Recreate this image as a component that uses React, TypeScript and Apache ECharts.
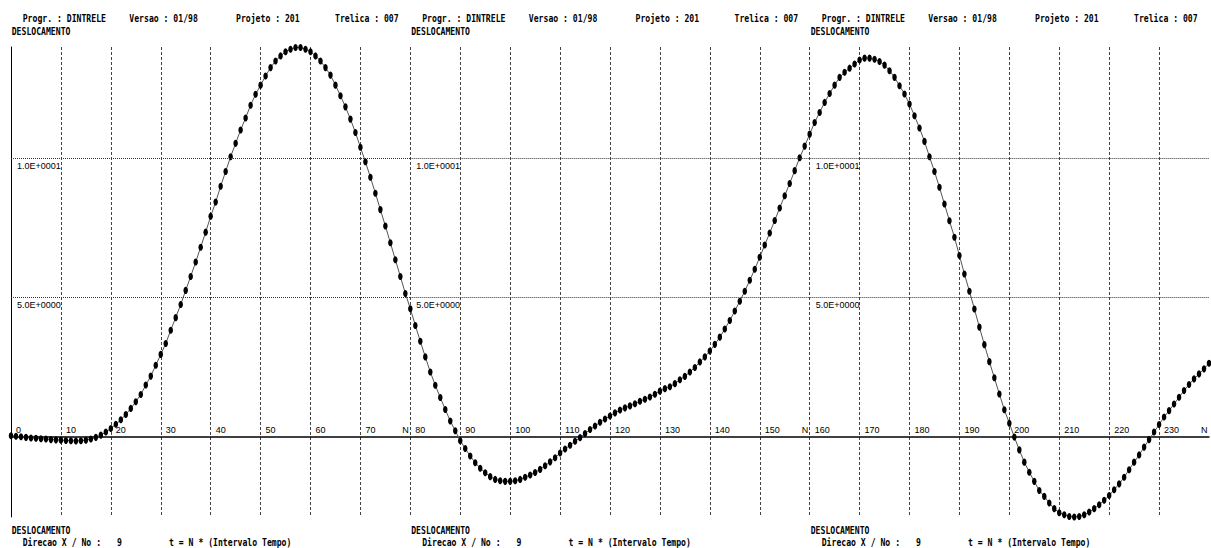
import React, { useEffect, useRef } from 'react';
import * as echarts from 'echarts';

// Displacement (DESLOCAMENTO) per time step N
const dispSteps0to79 = [
  0.04, 0.02, 0.0, -0.02, -0.04, -0.05, -0.07, -0.08, -0.1, -0.11,
  -0.12, -0.13, -0.14, -0.15, -0.14, -0.12, -0.08, -0.02, 0.06, 0.17,
  0.3, 0.45, 0.61, 0.8, 1.02, 1.26, 1.52, 1.86, 2.18, 2.57,
  2.96, 3.35, 3.83, 4.28, 4.75, 5.26, 5.76, 6.28, 6.81, 7.35,
  7.92, 8.43, 9.0, 9.53, 10.06, 10.54, 11.02, 11.45, 11.91, 12.3,
  12.63, 12.96, 13.26, 13.5, 13.68, 13.83, 13.92, 13.98, 13.98, 13.92,
  13.83, 13.68, 13.5, 13.26, 12.99, 12.63, 12.25, 11.85, 11.41, 10.93,
  10.4, 9.88, 9.32, 8.75, 8.16, 7.57, 6.97, 6.36, 5.76, 5.15,
];
const dispSteps80to159 = [
  4.6, 4.0, 3.43, 2.87, 2.33, 1.85, 1.41, 0.98, 0.57, 0.22,
  -0.14, -0.42, -0.69, -0.93, -1.13, -1.29, -1.43, -1.53, -1.58, -1.6,
  -1.6, -1.58, -1.53, -1.45, -1.37, -1.28, -1.17, -1.04, -0.9, -0.75,
  -0.58, -0.44, -0.3, -0.16, -0.03, 0.12, 0.26, 0.39, 0.52, 0.64,
  0.75, 0.86, 0.96, 1.04, 1.11, 1.19, 1.28, 1.35, 1.43, 1.53,
  1.64, 1.73, 1.8, 1.91, 2.05, 2.17, 2.33, 2.49, 2.69, 2.87,
  3.08, 3.32, 3.58, 3.87, 4.18, 4.52, 4.87, 5.23, 5.62, 6.02,
  6.45, 6.89, 7.32, 7.77, 8.22, 8.66, 9.1, 9.56, 10.02, 10.44,
];
const dispSteps160to240 = [
  10.87, 11.29, 11.65, 12.01, 12.33, 12.63, 12.91, 13.09, 13.24, 13.39,
  13.53, 13.6, 13.6, 13.56, 13.48, 13.35, 13.15, 12.91, 12.61, 12.31,
  11.95, 11.53, 11.09, 10.61, 10.06, 9.53, 8.96, 8.36, 7.76, 7.17,
  6.51, 5.85, 5.23, 4.59, 3.94, 3.31, 2.7, 2.12, 1.54, 0.97,
  0.49, -0.01, -0.47, -0.91, -1.27, -1.6, -1.93, -2.14, -2.38, -2.58,
  -2.73, -2.8, -2.86, -2.88, -2.86, -2.8, -2.7, -2.58, -2.44, -2.28,
  -2.11, -1.9, -1.69, -1.45, -1.18, -0.91, -0.65, -0.37, -0.1, 0.17,
  0.44, 0.71, 0.94, 1.18, 1.42, 1.66, 1.88, 2.08, 2.26, 2.44,
  2.64,
];

const stepMin = 0;
const stepMax = 240;
const stepTickInterval = 10;
const dispMin = -2.88;
const dispMax = 14.0;
const panelStartSteps = [0, 80, 160];
const yGridValues = [10, 5];
const yGridLabels = ['1.0E+0001', '5.0E+0000'];
const panelEndLabel = 'N';

const headerTexts = ['Progr. : DINTRELE', 'Versao : 01/98', 'Projeto : 201', 'Trelica : 007'];
const titleText = 'DESLOCAMENTO';
const footerTexts = ['Direcao X / No :', '9', 't = N * (Intervalo Tempo)'];

// ---- layout / style (not data) ----
const W = 1211;
const H = 548;
const GRID = { left: 11, right: 2, top: 47, bottom: 31 };
const PANEL_OFFSETS = [0, 399.5, 799];
const HEADER_X = [22.7, 129.3, 236, 335];
const HEADER_Y = 18.5;
const TITLE_X = 11.7;
const TITLE_TOP_Y = 31.7;
const TITLE_BOTTOM_Y = 530.3;
const FOOTER_X = [22.7, 117, 169];
const FOOTER_Y = 542.7;
const MONO = '"DejaVu Sans Mono", "Liberation Mono", monospace';
const SANS = '"Liberation Sans", "DejaVu Sans", sans-serif';
const MONO_SCALE = 0.814;

function monoText(text: string, x: number, y: number) {
  return {
    type: 'text',
    x,
    y,
    scaleX: MONO_SCALE,
    silent: true,
    style: {
      text,
      fontFamily: MONO,
      fontSize: 10,
      fontWeight: 'bold',
      fill: '#000',
      align: 'left',
      verticalAlign: 'middle',
    },
  };
}

export default function App() {
  const ref = useRef<HTMLDivElement>(null);

  useEffect(() => {
    document.body.style.margin = '0';
    const chart = echarts.init(ref.current!, null, { renderer: 'svg' });
    const displacement = [...dispSteps0to79, ...dispSteps80to159, ...dispSteps160to240];
    const data = displacement.map((v, i) => [stepMin + i, v]);

    const markData: any[] = [];
    yGridValues.forEach((yv, k) => {
      panelStartSteps.forEach((s, j) => {
        const e = j < panelStartSteps.length - 1 ? panelStartSteps[j + 1] : stepMax;
        markData.push([{ name: yGridLabels[k], coord: [s, yv] }, { coord: [e, yv] }]);
      });
    });

    chart.setOption({
      animation: false,
      backgroundColor: '#fff',
      grid: { ...GRID, containLabel: false, outerBoundsMode: 'none' },
      xAxis: {
        type: 'value',
        position: 'bottom',
        min: stepMin,
        max: stepMax,
        interval: stepTickInterval,
        axisLine: { show: true, onZero: false, lineStyle: { color: '#000', width: 1.5 } },
        axisTick: { show: false },
        axisLabel: {
          inside: true,
          margin: 2,
          align: 'left',
          padding: [0, 0, 0, 5],
          fontSize: 9,
          fontFamily: SANS,
          color: '#000',
          showMaxLabel: false,
          formatter: (v: number) => (v >= stepMax ? '' : String(v)),
        },
        splitLine: { show: true, showMaxLine: false, lineStyle: { type: [3, 2], color: '#444', width: 1 } },
      },
      yAxis: {
        type: 'value',
        min: dispMin,
        max: dispMax,
        axisLine: { show: true, onZero: false, lineStyle: { color: '#000', width: 1 } },
        axisTick: { show: false },
        axisLabel: { show: false },
        splitLine: { show: false },
      },
      series: [
        {
          type: 'line',
          data,
          symbol: 'circle',
          symbolSize: [4.5, 7],
          showAllSymbol: true,
          clip: false,
          itemStyle: { color: '#000' },
          lineStyle: { color: '#555', width: 1 },
          emphasis: { disabled: true },
          markLine: {
            silent: true,
            symbol: ['none', 'none'],
            lineStyle: { type: [1, 1], color: '#333', width: 1 },
            label: {
              show: true,
              position: 'insideStartBottom',
              formatter: '{b}',
              distance: [6, 3],
              fontSize: 9,
              fontFamily: SANS,
              color: '#000',
            },
            emphasis: { disabled: true },
            data: markData,
          },
        },
      ],
    });

    // move the x axis (line + labels) up to the zero displacement level
    const y0 = chart.convertToPixel({ yAxisIndex: 0 }, 0) as number;
    const gridBottomPx = H - GRID.bottom;
    chart.setOption({ xAxis: { offset: -(gridBottomPx - y0) } });

    const endSteps = [...panelStartSteps.slice(1), stepMax];
    const graphics: any[] = [];
    endSteps.forEach((s) => {
      const px = chart.convertToPixel({ xAxisIndex: 0 }, s) as number;
      graphics.push({
        type: 'text',
        x: px - 1.5,
        y: y0 - 2,
        silent: true,
        style: {
          text: panelEndLabel,
          fontFamily: SANS,
          fontSize: 9,
          fill: '#000',
          align: 'right',
          verticalAlign: 'bottom',
        },
      });
    });
    PANEL_OFFSETS.forEach((off) => {
      headerTexts.forEach((t, i) => graphics.push(monoText(t, off + HEADER_X[i], HEADER_Y)));
      graphics.push(monoText(titleText, off + TITLE_X, TITLE_TOP_Y));
      graphics.push(monoText(titleText, off + TITLE_X, TITLE_BOTTOM_Y));
      footerTexts.forEach((t, i) => graphics.push(monoText(t, off + FOOTER_X[i], FOOTER_Y)));
    });
    chart.setOption({ graphic: graphics });

    return () => chart.dispose();
  }, []);

  return (
    <div
      ref={ref}
      style={{ position: 'absolute', left: 0, top: 0, width: W, height: H, background: '#fff' }}
    />
  );
}
